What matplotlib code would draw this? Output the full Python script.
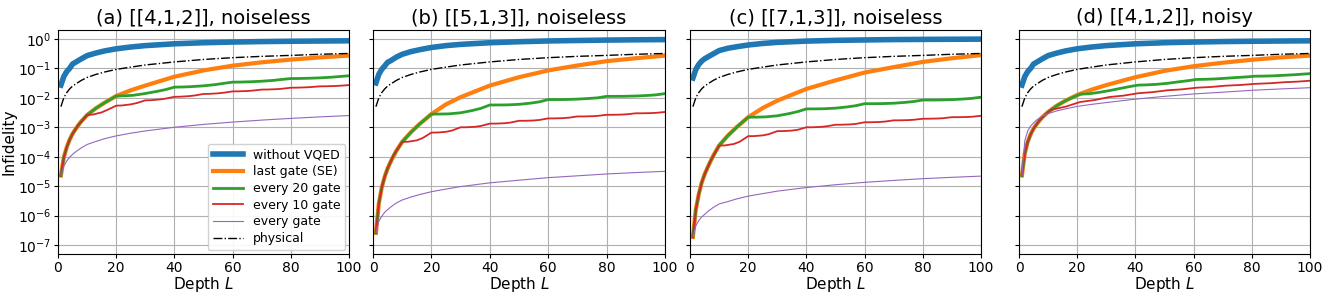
import matplotlib
matplotlib.use("Agg")
import matplotlib.pyplot as plt

# profundidades comunes (curvas suaves)
L_suave = [1, 2, 3, 4, 5, 6, 8, 10, 13, 16, 20, 25, 30, 40, 50, 60, 70, 80, 90, 100]

# curva fisica (igual en los cuatro paneles)
fisica = [0.005, 0.010, 0.015, 0.020, 0.025, 0.029, 0.039, 0.049, 0.062, 0.075, 0.092,
          0.11, 0.13, 0.165, 0.20, 0.23, 0.255, 0.275, 0.30, 0.32]

# ---- (a) [[4,1,2]], noiseless ----
a_sin = [0.027, 0.053, 0.078, 0.10, 0.14, 0.16, 0.21, 0.27, 0.33, 0.39, 0.46,
         0.53, 0.59, 0.68, 0.74, 0.78, 0.81, 0.83, 0.845, 0.86]
a_ultima = [2.3e-5, 9.5e-5, 2.1e-4, 3.8e-4, 6e-4, 8.6e-4, 1.6e-3, 2.6e-3, 4.4e-3, 6.8e-3, 1.15e-2,
            1.8e-2, 2.6e-2, 5.2e-2, 8.5e-2, 0.123, 0.16, 0.198, 0.235, 0.27]
a_cada1 = [2.3e-5, 4.8e-5, 7.2e-5, 9.6e-5, 1.2e-4, 1.45e-4, 2e-4, 2.6e-4, 3.3e-4, 4.1e-4, 5.1e-4,
           6.3e-4, 7.5e-4, 1e-3, 1.25e-3, 1.5e-3, 1.75e-3, 2e-3, 2.25e-3, 2.5e-3]

L_cada20 = [1, 2, 3, 4, 5, 7, 10, 13, 16, 20,
            23, 26, 30, 34, 37, 40, 43, 46, 50, 54, 57, 60,
            63, 66, 70, 74, 77, 80, 83, 86, 90, 94, 97, 100]
a_cada20 = [2.3e-5, 9.5e-5, 2.1e-4, 3.8e-4, 6e-4, 1.2e-3, 2.6e-3, 4.4e-3, 6.8e-3, 1.15e-2,
            1.17e-2, 1.22e-2, 1.4e-2, 1.65e-2, 1.9e-2, 2.3e-2,
            2.33e-2, 2.4e-2, 2.55e-2, 2.8e-2, 3.1e-2, 3.4e-2,
            3.43e-2, 3.5e-2, 3.65e-2, 3.9e-2, 4.2e-2, 4.5e-2,
            4.53e-2, 4.6e-2, 4.75e-2, 5.0e-2, 5.3e-2, 5.6e-2]

L_cada10 = [1, 2, 3, 4, 5, 7, 10,
            12, 15, 17, 20, 22, 25, 27, 30, 32, 35, 37, 40,
            42, 45, 47, 50, 52, 55, 57, 60, 62, 65, 67, 70,
            72, 75, 77, 80, 82, 85, 87, 90, 92, 95, 97, 100]
a_cada10 = [2.3e-5, 9.5e-5, 2.1e-4, 3.8e-4, 6e-4, 1.2e-3, 2.6e-3,
            2.7e-3, 3.2e-3, 3.9e-3, 5.4e-3, 5.5e-3, 6.0e-3, 6.6e-3, 8.2e-3,
            8.3e-3, 8.8e-3, 9.4e-3, 1.08e-2, 1.09e-2, 1.14e-2, 1.2e-2, 1.35e-2,
            1.36e-2, 1.42e-2, 1.49e-2, 1.65e-2, 1.66e-2, 1.7e-2, 1.76e-2, 1.9e-2,
            1.91e-2, 1.96e-2, 2.03e-2, 2.2e-2, 2.21e-2, 2.26e-2, 2.32e-2, 2.45e-2,
            2.46e-2, 2.51e-2, 2.57e-2, 2.7e-2]

# ---- (b) [[5,1,3]], noiseless ----
b_sin = [0.032, 0.063, 0.093, 0.12, 0.16, 0.18, 0.24, 0.30, 0.37, 0.43, 0.51,
         0.59, 0.65, 0.74, 0.80, 0.85, 0.88, 0.91, 0.93, 0.945]
b_ultima = [2.6e-7, 2.6e-6, 9e-6, 2.1e-5, 4e-5, 6.6e-5, 1.6e-4, 3.2e-4, 6.8e-4, 1.3e-3, 2.8e-3,
            6e-3, 1.05e-2, 2.6e-2, 5e-2, 8.5e-2, 0.125, 0.175, 0.22, 0.27]
b_cada1 = [2.6e-7, 6.4e-7, 9.5e-7, 1.3e-6, 1.6e-6, 1.95e-6, 2.7e-6, 3.4e-6, 4.3e-6, 5.2e-6, 6.5e-6,
           8e-6, 9.7e-6, 1.3e-5, 1.6e-5, 1.95e-5, 2.25e-5, 2.6e-5, 2.9e-5, 3.2e-5]
b_cada20 = [2.6e-7, 2.6e-6, 9e-6, 2.1e-5, 4e-5, 1.1e-4, 3.2e-4, 6.8e-4, 1.3e-3, 2.8e-3,
            2.81e-3, 2.85e-3, 3.1e-3, 3.7e-3, 4.4e-3, 5.7e-3,
            5.71e-3, 5.75e-3, 6.0e-3, 6.6e-3, 7.3e-3, 8.7e-3,
            8.71e-3, 8.75e-3, 9.0e-3, 9.5e-3, 1.0e-2, 1.12e-2,
            1.12e-2, 1.125e-2, 1.15e-2, 1.2e-2, 1.26e-2, 1.39e-2]
b_cada10 = [2.6e-7, 2.6e-6, 9e-6, 2.1e-5, 4e-5, 1.1e-4, 3.2e-4,
            3.23e-4, 3.6e-4, 4.3e-4, 6.6e-4, 6.63e-4, 7.0e-4, 7.7e-4, 1.0e-3,
            1.0e-3, 1.04e-3, 1.11e-3, 1.33e-3, 1.33e-3, 1.37e-3, 1.44e-3, 1.66e-3,
            1.66e-3, 1.7e-3, 1.77e-3, 2.0e-3, 2.0e-3, 2.04e-3, 2.11e-3, 2.33e-3,
            2.33e-3, 2.37e-3, 2.44e-3, 2.65e-3, 2.65e-3, 2.69e-3, 2.76e-3, 2.98e-3,
            2.98e-3, 3.02e-3, 3.09e-3, 3.3e-3]

# ---- (c) [[7,1,3]], noiseless ----
c_sin = [0.047, 0.092, 0.135, 0.175, 0.21, 0.24, 0.31, 0.40, 0.48, 0.54, 0.62,
         0.70, 0.76, 0.84, 0.89, 0.92, 0.945, 0.96, 0.97, 0.98]
c_ultima = [1.9e-7, 1.6e-6, 5.3e-6, 1.3e-5, 2.5e-5, 4.2e-5, 1.1e-4, 2.4e-4, 5.2e-4, 1e-3, 2.2e-3,
            4.5e-3, 8e-3, 2.0e-2, 3.9e-2, 7.2e-2, 0.11, 0.165, 0.22, 0.28]
c_cada1 = [1.9e-7, 4.5e-7, 6.8e-7, 9e-7, 1.1e-6, 1.35e-6, 1.9e-6, 2.5e-6, 3e-6, 3.7e-6, 4.6e-6,
           5.6e-6, 6.8e-6, 9e-6, 1.12e-5, 1.35e-5, 1.57e-5, 1.8e-5, 2e-5, 2.2e-5]
c_cada20 = [1.9e-7, 1.6e-6, 5.3e-6, 1.3e-5, 2.5e-5, 7e-5, 2.4e-4, 5.2e-4, 1e-3, 2.2e-3,
            2.21e-3, 2.25e-3, 2.45e-3, 2.9e-3, 3.4e-3, 4.2e-3,
            4.21e-3, 4.25e-3, 4.45e-3, 4.9e-3, 5.4e-3, 6.3e-3,
            6.31e-3, 6.35e-3, 6.55e-3, 7.0e-3, 7.5e-3, 8.4e-3,
            8.41e-3, 8.45e-3, 8.65e-3, 9.1e-3, 9.6e-3, 1.05e-2]
c_cada10 = [1.9e-7, 1.6e-6, 5.3e-6, 1.3e-5, 2.5e-5, 7e-5, 2.4e-4,
            2.42e-4, 2.7e-4, 3.2e-4, 5.0e-4, 5.02e-4, 5.3e-4, 5.8e-4, 7.4e-4,
            7.42e-4, 7.7e-4, 8.2e-4, 1.0e-3, 1.0e-3, 1.03e-3, 1.08e-3, 1.22e-3,
            1.22e-3, 1.25e-3, 1.3e-3, 1.48e-3, 1.48e-3, 1.51e-3, 1.56e-3, 1.72e-3,
            1.72e-3, 1.75e-3, 1.8e-3, 1.95e-3, 1.95e-3, 1.98e-3, 2.03e-3, 2.2e-3,
            2.2e-3, 2.23e-3, 2.28e-3, 2.45e-3]

# ---- (d) [[4,1,2]], noisy ----
d_sin = [0.027, 0.053, 0.078, 0.10, 0.14, 0.16, 0.21, 0.27, 0.33, 0.39, 0.46,
         0.53, 0.59, 0.68, 0.74, 0.78, 0.81, 0.83, 0.845, 0.86]
d_ultima = [2.3e-5, 1.3e-4, 3.2e-4, 5.8e-4, 9e-4, 1.25e-3, 2.2e-3, 3.3e-3, 5.4e-3, 8e-3, 1.25e-2,
            1.9e-2, 2.7e-2, 5e-2, 8.2e-2, 0.118, 0.155, 0.195, 0.235, 0.27]
d_cada1 = [2.3e-5, 3.5e-4, 7.5e-4, 1.1e-3, 1.4e-3, 1.75e-3, 2.4e-3, 2.9e-3, 3.6e-3, 4.2e-3, 5.1e-3,
           6e-3, 6.9e-3, 9.0e-3, 1.12e-2, 1.35e-2, 1.55e-2, 1.8e-2, 2.0e-2, 2.2e-2]

L_d_cada20 = [1, 2, 3, 4, 5, 7, 10, 13, 16, 21,
              24, 27, 31, 35, 38, 41, 44, 47, 51, 55, 58, 61,
              64, 67, 71, 75, 78, 81, 84, 87, 91, 95, 98, 100]
d_cada20 = [2.3e-5, 1.3e-4, 3.2e-4, 5.8e-4, 9e-4, 1.7e-3, 3.3e-3, 5.4e-3, 8e-3, 1.33e-2,
            1.37e-2, 1.5e-2, 1.75e-2, 2.1e-2, 2.4e-2, 2.7e-2,
            2.75e-2, 2.85e-2, 3.1e-2, 3.5e-2, 3.8e-2, 4.2e-2,
            4.25e-2, 4.35e-2, 4.6e-2, 4.9e-2, 5.1e-2, 5.4e-2,
            5.45e-2, 5.55e-2, 5.8e-2, 6.1e-2, 6.4e-2, 6.6e-2]

L_d_cada10 = [1, 2, 3, 4, 5, 7, 9, 11, 16, 21, 26, 31, 36, 41, 46, 51,
              56, 61, 66, 71, 76, 81, 86, 91, 96, 100]
d_cada10 = [2.3e-5, 1.3e-4, 3.2e-4, 5.8e-4, 9e-4, 1.7e-3, 2.7e-3, 3.9e-3, 5.0e-3, 7.2e-3,
            8.4e-3, 1.06e-2, 1.19e-2, 1.43e-2, 1.56e-2, 1.8e-2, 1.94e-2, 2.2e-2,
            2.33e-2, 2.58e-2, 2.72e-2, 2.97e-2, 3.11e-2, 3.37e-2, 3.55e-2, 3.8e-2]

titulos = ["(a) [[4,1,2]], noiseless", "(b) [[5,1,3]], noiseless",
           "(c) [[7,1,3]], noiseless", "(d) [[4,1,2]], noisy"]
etiquetas = ["without VQED", "last gate (SE)", "every 20 gate",
             "every 10 gate", "every gate", "physical"]

paneles = [
    (a_sin, a_ultima, L_cada20, a_cada20, L_cada10, a_cada10, a_cada1),
    (b_sin, b_ultima, L_cada20, b_cada20, L_cada10, b_cada10, b_cada1),
    (c_sin, c_ultima, L_cada20, c_cada20, L_cada10, c_cada10, c_cada1),
    (d_sin, d_ultima, L_d_cada20, d_cada20, L_d_cada10, d_cada10, d_cada1),
]

# posiciones de los ejes en pixeles (izq, der) sobre 1323 de ancho
bordes = [(58, 349), (373, 665), (690, 981), (1019, 1310)]
W, H = 1323, 292

fig = plt.figure(figsize=(W / 100, H / 100), dpi=100)

for i, (sin, ultima, L20, cada20, L10, cada10, cada1) in enumerate(paneles):
    izq, der = bordes[i]
    ax = fig.add_axes([izq / W, 1 - 254 / H, (der - izq) / W, 224 / H])

    ax.plot(L_suave, sin, color='C0', lw=4, label=etiquetas[0])
    ax.plot(L_suave, ultima, color='C1', lw=3, label=etiquetas[1])
    ax.plot(L20, cada20, color='C2', lw=2, label=etiquetas[2])
    ax.plot(L10, cada10, color='C3', lw=1.3, label=etiquetas[3])
    ax.plot(L_suave, cada1, color='C4', lw=0.8, label=etiquetas[4])
    ax.plot(L_suave, fisica, color='black', lw=1, linestyle='-.', label=etiquetas[5])

    ax.set_yscale('log')
    ax.set_xlim(0, 100)
    ax.set_ylim(5e-8, 2)
    ax.set_xticks([0, 20, 40, 60, 80, 100])
    ax.set_yticks([10.0 ** k for k in range(-7, 1)])
    ax.yaxis.set_minor_locator(matplotlib.ticker.NullLocator())
    ax.tick_params(labelsize=10, length=3, pad=2)
    ax.grid(True, color='#b0b0b0', lw=0.8)
    ax.set_title(titulos[i], fontsize=14, pad=5)
    ax.set_xlabel('Depth $L$', fontsize=11, labelpad=0)

    if i == 0:
        ax.set_ylabel('Infidelity', fontsize=11, labelpad=1)
        ax.legend(loc='lower right', fontsize=9, borderaxespad=0.3,
                  labelspacing=0.3, handlelength=2.4, framealpha=0.9)
    else:
        ax.tick_params(labelleft=False)

fig.savefig('out.png', dpi=100)
